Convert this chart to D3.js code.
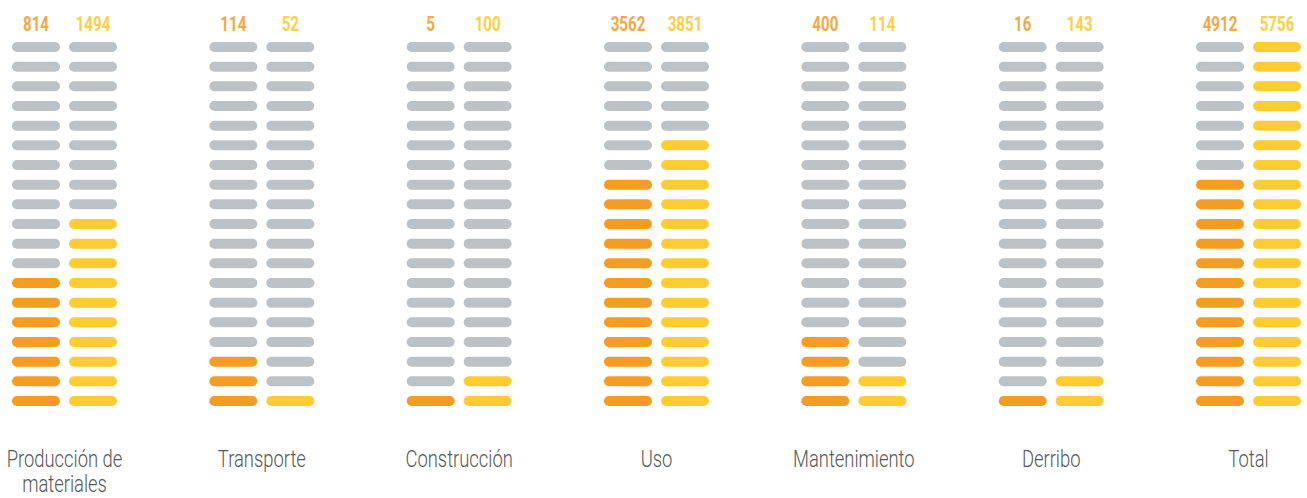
<!DOCTYPE html>
<html>
<head>
<meta charset="utf-8">
<script src="https://cdn.jsdelivr.net/npm/d3@7"></script>
<style>
  html, body { margin: 0; padding: 0; background: #fff; }
  svg { display: block; }
  .num { font-family: Roboto, "DejaVu Sans", sans-serif; font-weight: 700; font-size: 21px; }
  .cat { font-family: Roboto, "DejaVu Sans", sans-serif; font-weight: 300; font-size: 23px; fill: #555759; }
</style>
</head>
<body>
<div id="chart"></div>
<script>
// ---- data ----
const categories = ['Producción de materiales', 'Transporte', 'Construcción', 'Uso', 'Mantenimiento', 'Derribo', 'Total'];
const seriesA = [814, 114, 5, 3562, 400, 16, 4912];     // orange column values
const seriesB = [1494, 52, 100, 3851, 114, 143, 5756];  // yellow column values
const filledA = [7, 3, 1, 12, 4, 1, 12];                // lit pills, orange column
const filledB = [10, 1, 2, 14, 2, 2, 19];               // lit pills, yellow column
const ROWS = 19;

const W = 1307, H = 498;
const colors = { a: '#F59D23', b: '#FFCD33', off: '#BDC2C6', textA: '#F6A745', textB: '#FFCF45' };
// the original uses a condensed face; squeeze the installed one horizontally
const NUM_SQUEEZE = 0.72, CAT_SQUEEZE = 0.8;

const svg = d3.select('#chart').append('svg').attr('width', W).attr('height', H);

// ---- scales ----
const x = d3.scaleBand().domain(categories).range([12, 1301]).paddingInner(0.468).paddingOuter(0);
const xc = d3.scaleBand().domain(['a', 'b']).range([0, x.bandwidth()]).paddingInner(0.158);
const y = d3.scalePoint().domain(d3.range(ROWS)).range([47, 401]);
const pillH = 10;

const groups = svg.selectAll('g.grp')
  .data(categories.map((c, i) => ({
    cat: c,
    cols: [
      { key: 'a', value: seriesA[i], filled: filledA[i] },
      { key: 'b', value: seriesB[i], filled: filledB[i] }
    ]
  })))
  .join('g')
  .attr('class', 'grp')
  .attr('transform', d => `translate(${x(d.cat)},0)`);

const cols = groups.selectAll('g.col')
  .data(d => d.cols)
  .join('g')
  .attr('class', 'col')
  .attr('transform', d => `translate(${xc(d.key)},0)`);

cols.selectAll('rect')
  .data(d => d3.range(ROWS).map(r => ({ r, on: r >= ROWS - d.filled, key: d.key })))
  .join('rect')
  .attr('x', 0)
  .attr('y', d => y(d.r) - pillH / 2)
  .attr('width', xc.bandwidth())
  .attr('height', pillH)
  .attr('rx', pillH / 2)
  .attr('fill', d => d.on ? colors[d.key] : colors.off);

cols.append('g')
  .attr('transform', `translate(${xc.bandwidth() / 2},31) scale(${NUM_SQUEEZE},1)`)
  .append('text')
  .attr('class', 'num')
  .attr('text-anchor', 'middle')
  .attr('fill', d => d.key === 'a' ? colors.textA : colors.textB)
  .text(d => d.value);

// ---- category labels (wrap "Producción de / materiales") ----
groups.append('g')
  .attr('transform', `translate(${x.bandwidth() / 2},467) scale(${CAT_SQUEEZE},1)`)
  .append('text')
  .attr('class', 'cat')
  .attr('text-anchor', 'middle')
  .each(function (d) {
    const lines = d.cat === 'Producción de materiales' ? ['Producción de', 'materiales'] : [d.cat];
    d3.select(this).selectAll('tspan')
      .data(lines)
      .join('tspan')
      .attr('x', 0)
      .attr('dy', (l, i) => i === 0 ? 0 : 25)
      .text(l => l);
  });
</script>
</body>
</html>
